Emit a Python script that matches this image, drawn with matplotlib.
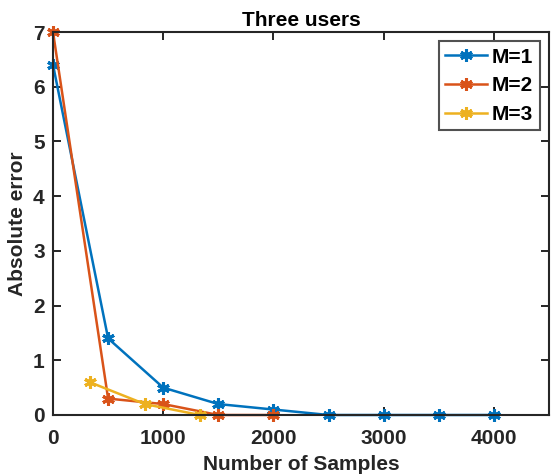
import matplotlib
matplotlib.use("Agg")
import matplotlib.pyplot as plt

plt.rcParams['font.family'] = ['Liberation Sans', 'DejaVu Sans']
plt.rcParams['font.weight'] = 'bold'

m1_x = [0, 500, 1000, 1500, 2000, 2500, 3000, 3500, 4000]
m1_y = [6.4, 1.4, 0.5, 0.2, 0.1, 0.0, 0.0, 0.0, 0.0]
m2_x = [0, 500, 1000, 1500, 2000]
m2_y = [7.0, 0.3, 0.2, 0.0, 0.0]
m3_x = [333, 833, 1333]
m3_y = [0.6, 0.2, 0.0]
labels = ['M=1', 'M=2', 'M=3']
colors = ['#0072BD', '#D95319', '#EDB120']
x_ticks = [0, 1000, 2000, 3000, 4000]
y_ticks = [0, 1, 2, 3, 4, 5, 6, 7]

fig = plt.figure(figsize=(5.51, 4.74), dpi=100)
ax = fig.add_axes([53/551, 1-415/474, (549-53)/551, (415-32)/474])

for xs, ys, lab, c in zip([m1_x, m2_x, m3_x], [m1_y, m2_y, m3_y], labels, colors):
    ax.plot(xs, ys, color=c, lw=1.8, marker=(6, 2, 0), ms=9, mew=2.2, label=lab, clip_on=False)

ax.set_xlim(0, 4500)
ax.set_ylim(0, 7)
ax.set_xticks(x_ticks)
ax.set_yticks(y_ticks)
ax.tick_params(axis='both', direction='in', top=True, right=True, length=6, width=1.2, labelsize=15)
ax.tick_params(axis='x', pad=10)
ax.tick_params(axis='y', pad=6)
for s in ax.spines.values():
    s.set_linewidth(1.5)
    s.set_color('#262626')
for t in ax.get_xticklabels() + ax.get_yticklabels():
    t.set_fontweight('bold')
    t.set_color('#262626')

ax.set_title('Three users', fontsize=15, fontweight='bold', pad=4)
ax.set_xlabel('Number of Samples', fontsize=15, fontweight='bold', color='#262626', labelpad=5)
ax.set_ylabel('Absolute error', fontsize=15, fontweight='bold', color='#262626', labelpad=4)

leg = ax.legend(loc='upper right', fontsize=15, frameon=True, fancybox=False,
                edgecolor='#262626', handlelength=2.0, borderaxespad=0.45,
                labelspacing=0.47, handletextpad=0.25, borderpad=0.3)
leg.get_frame().set_linewidth(1.5)
for t in leg.get_texts():
    t.set_fontweight('bold')

fig.savefig('out.png', dpi=100)
